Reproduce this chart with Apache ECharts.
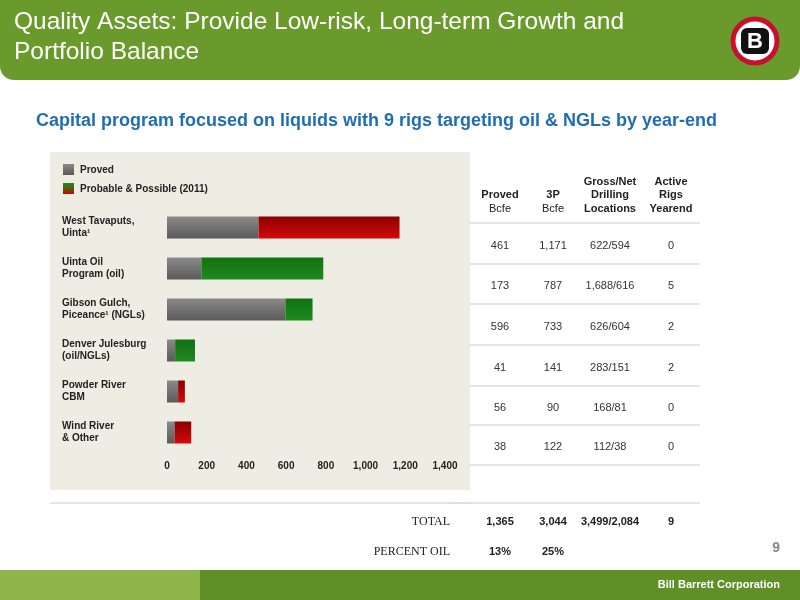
<!DOCTYPE html>
<html>
<head>
<meta charset="utf-8">
<script src="https://cdn.jsdelivr.net/npm/echarts@6/dist/echarts.min.js"></script>
<style>html,body{margin:0;padding:0;background:#fff}#c{width:800px;height:600px}</style>
</head>
<body>
<div id="c"></div>
<script>
// 数据
var categories = ['West Tavaputs,\nUinta¹', 'Uinta Oil\nProgram (oil)', 'Gibson Gulch,\nPiceance¹ (NGLs)', 'Denver Julesburg\n(oil/NGLs)', 'Powder River\nCBM', 'Wind River\n& Other'];
var proved = [461, 173, 596, 41, 56, 38];
var total3P = [1171, 787, 733, 141, 90, 122];
var probColor = ['red', 'green', 'green', 'green', 'red', 'red'];
var locations = ['622/594', '1,688/616', '626/604', '283/151', '168/81', '112/38'];
var rigs = ['0', '5', '2', '2', '0', '0'];
var totals = ['1,365', '3,044', '3,499/2,084', '9'];
var percentOil = ['13%', '25%'];

function fmt(n) { return n.toLocaleString('en-US'); }

var grad = function (a, b) { return new echarts.graphic.LinearGradient(0, 0, 0, 1, [{offset: 0, color: a}, {offset: 1, color: b}]); };
var grayG = grad('#8a8a8a', '#5a5a5a');
var redG = grad('#8a0000', '#d40a0a');
var greenG = grad('#127012', '#1f8a1f');

var probable = proved.map(function (p, i) {
    return {value: total3P[i] - p, itemStyle: {color: probColor[i] === 'red' ? redG : greenG}};
});

var g = [];
// 页眉
g.push({type: 'rect', shape: {x: 0, y: 0, width: 800, height: 80, r: [0, 0, 14, 14]}, style: {fill: '#6b9a2c'}, z: 0});
g.push({type: 'text', x: 14, y: 7, style: {text: 'Quality Assets: Provide Low-risk, Long-term Growth and\nPortfolio Balance', fill: '#fff', font: '24.5px "Liberation Sans", Arial', lineHeight: 30}});
g.push({type: 'circle', shape: {cx: 755, cy: 41, r: 22}, style: {fill: '#fff', stroke: '#c8102e', lineWidth: 5}});
g.push({type: 'rect', shape: {x: 741, y: 28, width: 28, height: 26, r: 6}, style: {fill: '#111'}});
g.push({type: 'text', x: 755, y: 42, style: {text: 'B', fill: '#fff', font: 'bold 22px "Liberation Sans", Arial', align: 'center', verticalAlign: 'middle'}});
// 副标题
g.push({type: 'text', x: 36, y: 112, style: {text: 'Capital program focused on liquids with 9 rigs targeting oil & NGLs by year-end', fill: '#1f6db5', font: 'bold 18px "Liberation Sans", Arial'}});
// 图表背景
g.push({type: 'rect', shape: {x: 50, y: 152, width: 420, height: 338}, style: {fill: '#eeede4'}, z: -1});
// 图例
g.push({type: 'rect', shape: {x: 63, y: 164, width: 11, height: 11}, style: {fill: grayG}});
g.push({type: 'text', x: 80, y: 170, style: {text: 'Proved', fill: '#222', font: 'bold 10px "Liberation Sans", Arial', verticalAlign: 'middle'}});
g.push({type: 'rect', shape: {x: 63, y: 183, width: 11, height: 11}, style: {fill: new echarts.graphic.LinearGradient(0, 0, 0, 1, [{offset: 0, color: '#1f8a1f'}, {offset: 0.5, color: '#5a5a10'}, {offset: 1, color: '#c00'}])}});
g.push({type: 'text', x: 80, y: 189, style: {text: 'Probable & Possible (2011)', fill: '#222', font: 'bold 10px "Liberation Sans", Arial', verticalAlign: 'middle'}});

// 表格
var tf = '11px "Liberation Sans", Arial';
var tb = 'bold 11px "Liberation Sans", Arial';
var cols = [500, 553, 610, 671];
g.push({type: 'text', x: cols[0], y: 195, style: {text: 'Proved', fill: '#222', font: tb, align: 'center', verticalAlign: 'middle'}});
g.push({type: 'text', x: cols[0], y: 209, style: {text: 'Bcfe', fill: '#222', font: tf, align: 'center', verticalAlign: 'middle'}});
g.push({type: 'text', x: cols[1], y: 195, style: {text: '3P', fill: '#222', font: tb, align: 'center', verticalAlign: 'middle'}});
g.push({type: 'text', x: cols[1], y: 209, style: {text: 'Bcfe', fill: '#222', font: tf, align: 'center', verticalAlign: 'middle'}});
g.push({type: 'text', x: cols[2], y: 175, style: {text: 'Gross/Net\nDrilling\nLocations', fill: '#222', font: tb, align: 'center', verticalAlign: 'top', lineHeight: 13.5}});
g.push({type: 'text', x: cols[3], y: 175, style: {text: 'Active\nRigs\nYearend', fill: '#222', font: tb, align: 'center', verticalAlign: 'top', lineHeight: 13.5}});
var lineYs = [223, 264, 304, 345, 386, 425, 465, 503];
lineYs.forEach(function (y, i) {
    g.push({type: 'line', shape: {x1: i === 7 ? 450 : 470, y1: y, x2: 700, y2: y}, style: {stroke: '#dcdcdc', lineWidth: 1.5}});
});
g.push({type: 'line', shape: {x1: 50, y1: 503, x2: 470, y2: 503}, style: {stroke: '#dcdcdc', lineWidth: 1.5}});
for (var i = 0; i < proved.length; i++) {
    var ry = (lineYs[i] + lineYs[i + 1]) / 2 + 2;
    [fmt(proved[i]), fmt(total3P[i]), locations[i], rigs[i]].forEach(function (t, j) {
        g.push({type: 'text', x: cols[j], y: ry, style: {text: t, fill: '#333', font: tf, align: 'center', verticalAlign: 'middle'}});
    });
}
g.push({type: 'text', x: 450, y: 522, style: {text: 'TOTAL', fill: '#222', font: '12px "Liberation Serif", serif', align: 'right', verticalAlign: 'middle'}});
g.push({type: 'text', x: 450, y: 552, style: {text: 'PERCENT OIL', fill: '#222', font: '12px "Liberation Serif", serif', align: 'right', verticalAlign: 'middle'}});
totals.forEach(function (t, j) {
    g.push({type: 'text', x: cols[j], y: 522, style: {text: t, fill: '#222', font: tb, align: 'center', verticalAlign: 'middle'}});
});
percentOil.forEach(function (t, j) {
    g.push({type: 'text', x: cols[j], y: 552, style: {text: t, fill: '#222', font: tb, align: 'center', verticalAlign: 'middle'}});
});
g.push({type: 'text', x: 780, y: 548, style: {text: '9', fill: '#888', font: 'bold 14px "Liberation Sans", Arial', align: 'right', verticalAlign: 'middle'}});
// 页脚
g.push({type: 'rect', shape: {x: 0, y: 570, width: 200, height: 30}, style: {fill: '#8db54a'}});
g.push({type: 'rect', shape: {x: 200, y: 570, width: 600, height: 30}, style: {fill: '#5f8f26'}});
g.push({type: 'text', x: 780, y: 585, style: {text: 'Bill Barrett Corporation', fill: '#fff', font: 'bold 11px "Liberation Sans", Arial', align: 'right', verticalAlign: 'middle'}});

var myChart = echarts.init(document.getElementById('c'));
myChart.setOption({
    animation: false,
    grid: {left: 167, right: 355, top: 207, height: 246},
    xAxis: {
        type: 'value', min: 0, max: 1400, interval: 200,
        axisLine: {show: false}, axisTick: {show: false}, splitLine: {show: false},
        axisLabel: {color: '#222', fontWeight: 'bold', fontSize: 10, fontFamily: 'Liberation Sans', margin: 8,
            formatter: function (v) { return fmt(v); }}
    },
    yAxis: {
        type: 'category', inverse: true, data: categories,
        axisLine: {show: false}, axisTick: {show: false},
        axisLabel: {color: '#222', fontWeight: 'bold', fontSize: 10, fontFamily: 'Liberation Sans', align: 'left', margin: 105, lineHeight: 12}
    },
    series: [
        {name: 'Proved', type: 'bar', stack: 'r', barWidth: 22, data: proved, itemStyle: {color: grayG}},
        {name: 'Probable & Possible (2011)', type: 'bar', stack: 'r', barWidth: 22, data: probable}
    ],
    graphic: g
});
</script>
</body>
</html>
